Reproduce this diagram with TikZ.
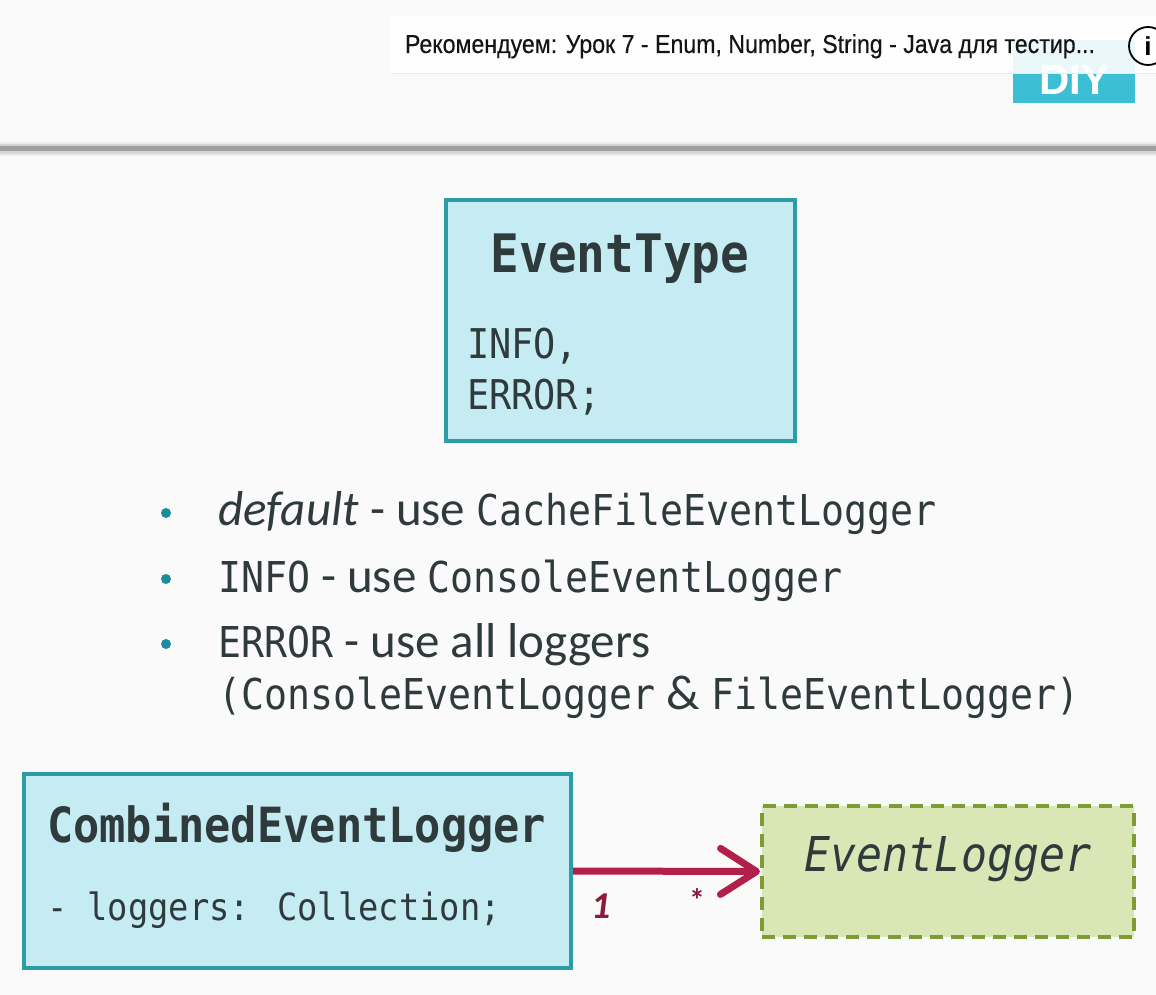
\documentclass[tikz,border=0pt]{standalone}
\usepackage{fontspec}
\usetikzlibrary{arrows.meta}
\newfontfamily\monof[FakeStretch=0.9]{DejaVu Sans Mono}
\newfontfamily\slidef{Carlito}
\newfontfamily\uif{Liberation Sans}
\newfontfamily\bannerf[FakeBold=0.4]{Liberation Sans}
\definecolor{pagebg}{HTML}{FAFAFA}
\definecolor{boxfill}{HTML}{C6ECF3}
\definecolor{boxline}{HTML}{2E9CA4}
\definecolor{ink}{HTML}{2F3A3C}
\definecolor{dotcol}{HTML}{1C8C9C}
\definecolor{ifill}{HTML}{D8E7B5}
\definecolor{iline}{HTML}{7E9C36}
\definecolor{assoc}{HTML}{B21F4B}
\definecolor{multcol}{HTML}{8A1B3B}
\definecolor{badge}{HTML}{3CBFD4}
\definecolor{rulecol}{HTML}{A0A0A0}
\tikzset{
  classbox/.style={draw=boxline, line width=4.2pt, fill=boxfill, inner sep=0pt},
  ifacebox/.style={draw=iline, line width=4pt, fill=ifill,
    dash pattern=on 13pt off 8pt, inner sep=0pt},
  txt/.style={inner sep=0pt, outer sep=0pt, anchor=base west, text=ink},
  bulletdot/.style={circle, fill=dotcol, minimum size=10pt, inner sep=0pt},
  mult/.style={inner sep=0pt, text=multcol, anchor=base}
}
\begin{document}
\begin{tikzpicture}[x=1pt, y=-1pt]
\fill[pagebg] (0,0) rectangle (1156,995);
\useasboundingbox (0,0) rectangle (1156,995);

% header rule with soft shadow
\fill[rulecol!20] (0,142) rectangle (1156,156);
\fill[rulecol!45] (0,144) rectangle (1156,154);
\fill[rulecol] (0,146) rectangle (1156,151);

% DIY badge
\node[fill=badge, minimum width=122pt, minimum height=63pt, inner sep=0pt] (diy) at (1074,71.5) {};
\node[inner sep=0pt, text=white, font=\uif\bfseries\fontsize{42}{42}\selectfont] (diytext) at (1074,80) {DIY};

% suggestion banner
\fill[white, opacity=0.9] (390,16) rectangle (1156,73);
\draw[black!8, line width=0.8pt] (390,73) -- (1156,73);
\node[txt, text=black!92, font=\bannerf\fontsize{22}{22}\selectfont] (banner) at (405,53)
  {\resizebox{690pt}{!}{\scalebox{1}[1.12]{Рекомендуем: Урок 7 - Enum, Number, String - Java для тестир...}}};
\node[circle, draw=black, line width=1.8pt, minimum size=38pt, inner sep=0pt, font=\uif\bfseries\fontsize{26}{26}\selectfont] (info) at (1148,46) {i};

% enum box
\node[classbox, minimum width=349pt, minimum height=241pt] (enum) at (620.5,320.5) {};
\node[txt, anchor=base, font=\monof\bfseries\fontsize{53}{53}\selectfont] (enumtitle) at (620,272) {EventType};
\node[txt, font=\monof\fontsize{41}{41}\selectfont] (lit1) at (467,358) {INFO,};
\node[txt, font=\monof\fontsize{41}{41}\selectfont] (lit2) at (467,409) {ERROR;};

% bullet list
\node[bulletdot] (b1) at (166,513) {};
\node[bulletdot] (b2) at (166,579) {};
\node[bulletdot] (b3) at (166,644) {};
\node[txt] (l1) at (218,525) {\slidef\itshape\fontsize{49}{49}\selectfont default\upshape\ - use \monof\fontsize{42.5}{42.5}\selectfont CacheFileEventLogger};
\node[txt] (l2) at (218,592) {\monof\fontsize{42.5}{42.5}\selectfont INFO\slidef\fontsize{49}{49}\selectfont\ - use \monof\fontsize{42.5}{42.5}\selectfont ConsoleEventLogger};
\node[txt] (l3) at (218,657) {\monof\fontsize{42.5}{42.5}\selectfont ERROR\slidef\fontsize{49}{49}\selectfont\ - use all loggers};
\node[txt] (l4) at (218,709) {\monof\fontsize{42.5}{42.5}\selectfont (ConsoleEventLogger\slidef\fontsize{49}{49}\selectfont\ \&\ \monof\fontsize{42.5}{42.5}\selectfont FileEventLogger)};

% combined logger class
\node[classbox, minimum width=547pt, minimum height=194pt] (comb) at (297.5,871) {};
\node[txt, font=\monof\bfseries\fontsize{48.5}{48.5}\selectfont] (combtitle) at (47,842) {CombinedEventLogger};
\node[txt, font=\monof\fontsize{37.5}{37.5}\selectfont] (combattr) at (47,920) {- loggers: Collection;};

% logger interface
\node[ifacebox, minimum width=372pt, minimum height=131pt] (iface) at (948,871.5) {};
\node[txt, anchor=base, font=\monof\itshape\fontsize{48}{48}\selectfont] (ifacetitle) at (948,871) {EventLogger};

% association
\draw[assoc, line width=7pt, -{Straight Barb[length=36pt, width=46pt, line width=7pt, round]}]
  (comb.east) -- (iface.west);
\node[mult, font=\slidef\bfseries\itshape\fontsize{38}{38}\selectfont] (m1) at (601,918) {1};
\node[mult, font=\slidef\bfseries\fontsize{32}{32}\selectfont] (m2) at (697,911) {*};
\end{tikzpicture}
\end{document}
